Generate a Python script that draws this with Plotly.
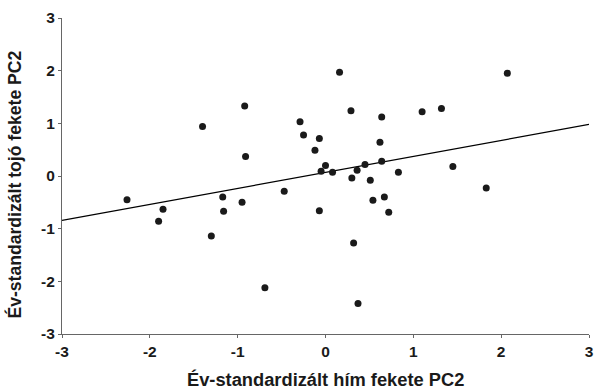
import plotly.graph_objects as go
import numpy as np

male_pc2 = [-2.26, -1.90, -1.85, -1.40, -1.30, -1.17, -1.16, -0.95, -0.92, -0.91,
            -0.69, -0.47, -0.29, -0.25, -0.12, -0.07, -0.07, -0.05, 0.00, 0.08,
            0.16, 0.29, 0.30, 0.32, 0.36, 0.37, 0.45, 0.51, 0.54, 0.62,
            0.64, 0.64, 0.67, 0.72, 0.83, 1.10, 1.32, 1.45, 1.83, 2.07]
female_pc2 = [-0.45, -0.86, -0.63, 0.94, -1.14, -0.40, -0.67, -0.50, 1.33, 0.37,
              -2.12, -0.29, 1.03, 0.78, 0.49, 0.71, -0.66, 0.09, 0.20, 0.07,
              1.97, 1.24, -0.04, -1.27, 0.11, -2.42, 0.22, -0.08, -0.46, 0.64,
              1.12, 0.28, -0.40, -0.69, 0.07, 1.22, 1.28, 0.18, -0.23, 1.95]
fit_intercept = 0.068
fit_slope = 0.304
axis_range = [-3, 3]
tick_vals = [-3, -2, -1, 0, 1, 2, 3]
tick_text = ["-3", "-2", "-1", "0", "1", "2", "3"]
x_title = "Év-standardizált hím fekete PC2"
y_title = "Év-standardizált tojó fekete PC2"

line_x = np.array(axis_range, dtype=float)
line_y = fit_intercept + fit_slope * line_x

fig = go.Figure()
fig.add_trace(go.Scatter(x=line_x, y=line_y, mode="lines",
                         line=dict(color="black", width=1.2), hoverinfo="skip"))
fig.add_trace(go.Scatter(x=male_pc2, y=female_pc2, mode="markers",
                         marker=dict(color="#1a1a1a", size=7, line=dict(width=0))))

font_family = "Liberation Sans, Arial, sans-serif"
axis_common = dict(range=axis_range, tickvals=tick_vals, ticktext=tick_text,
                   showgrid=False, zeroline=False, automargin=False,
                   showline=True, linecolor="#666", linewidth=1,
                   ticks="outside", ticklen=3, tickcolor="#666",
                   tickfont=dict(family=font_family, size=15.5, color="#1a1a1a", weight="bold"))

x_title_font = dict(family=font_family, size=18.3, color="#1a1a1a", weight="bold")
y_title_font = dict(family=font_family, size=17.6, color="#1a1a1a", weight="bold")

fig.update_layout(
    width=596, height=389,
    margin=dict(l=62, r=7, t=18, b=55),
    plot_bgcolor="white", paper_bgcolor="white",
    showlegend=False,
    xaxis=dict(**axis_common),
    yaxis=dict(**axis_common),
    annotations=[
        dict(text=x_title, xref="paper", yref="paper", x=0.5, y=-0.179,
             yanchor="bottom", xanchor="center", showarrow=False, font=x_title_font,
             borderpad=0),
        dict(text=y_title, xref="paper", yref="paper", x=-0.091, y=0.473,
             xanchor="center", yanchor="middle", textangle=-90, showarrow=False, font=y_title_font),
    ],
)

fig.write_html("out.html", config={"displayModeBar": False},
               post_script="document.body.style.margin='0';document.body.style.overflow='hidden';")
